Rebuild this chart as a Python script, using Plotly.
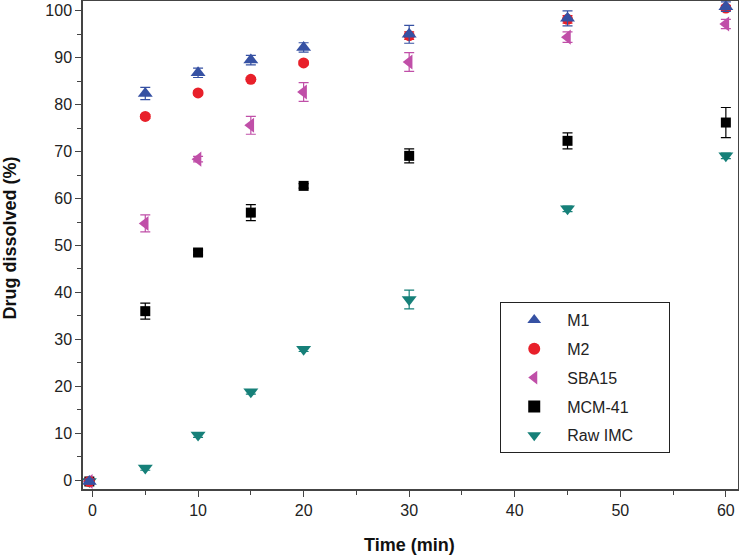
import plotly.graph_objects as go

time = [-0.3, 5, 10, 15, 20, 30, 45, 60]

m1 = [-0.3, 82.4, 86.8, 89.5, 92.2, 95.0, 98.4, 100.9]
m1_err = [0.5, 1.3, 1.0, 1.0, 1.0, 1.9, 1.6, 1.0]
m2 = [-0.3, 77.5, 82.5, 85.4, 88.9, 94.7, 98.2, 100.6]
m2_err = [0.3, 0.4, 0.4, 0.4, 0.4, 0.8, 0.8, 0.5]
sba15 = [-0.3, 54.7, 68.4, 75.6, 82.7, 89.1, 94.4, 97.2]
sba15_err = [0.5, 1.8, 0.6, 1.9, 2.0, 2.0, 1.1, 1.0]
mcm41 = [-0.3, 36.0, 48.5, 57.0, 62.7, 69.1, 72.3, 76.2]
mcm41_err = [0.3, 1.7, 0.5, 1.7, 0.5, 1.5, 1.7, 3.2]
raw = [-0.3, 2.6, 9.6, 18.8, 27.9, 38.5, 57.8, 69.1]
raw_err = [0.3, 0.5, 0.5, 0.5, 0.5, 2.0, 0.6, 0.6]

series = [
    ("M1", m1, m1_err, "triangle-up", "#3651a3", 13),
    ("M2", m2, m2_err, "circle", "#e8202a", 11),
    ("SBA15", sba15, sba15_err, "triangle-left", "#c04fa8", 13),
    ("MCM-41", mcm41, mcm41_err, "square", "#000000", 10),
    ("Raw IMC", raw, raw_err, "triangle-down", "#168079", 13),
]

pad = "\u00a0" * 7  # widen the legend box a bit

fig = go.Figure()
# draw in reverse so M1 sits on top, keep legend order with legendrank
for rank, (name, y, err, sym, col, size) in reversed(list(enumerate(series))):
    fig.add_trace(go.Scatter(
        x=time, y=y, name=name + pad, mode="markers", legendgroup=name,
        legendrank=rank + 1,
        marker=dict(symbol=sym, color=col, size=size),
        error_y=dict(type="data", array=err, color=col, thickness=1.2, width=5),
    ))

font = "Liberation Sans, Arial"
axis_common = dict(
    showline=True, linecolor="#444", linewidth=1.5, mirror=True,
    ticks="outside", ticklen=6, tickcolor="#444", tickwidth=1,
    showgrid=False, zeroline=False, automargin=False,
    tickfont=dict(family=font, size=16, color="#222"),
    minor=dict(ticks="outside", ticklen=4, tickcolor="#444", dtick=5, tick0=0),
)

fig.update_layout(
    width=739, height=556,
    margin=dict(l=83, r=1, t=1, b=67),
    plot_bgcolor="white", paper_bgcolor="white",
    xaxis=dict(axis_common, range=[-0.9, 61.15], tickvals=[0, 10, 20, 30, 40, 50, 60]),
    yaxis=dict(axis_common, range=[-1.9, 102.1], tickvals=list(range(0, 101, 10))),
    legend=dict(x=0.637, y=0.383, xanchor="left", yanchor="top",
                bordercolor="#222", borderwidth=1, bgcolor="white",
                font=dict(family=font, size=16, color="#222"),
                itemsizing="constant", tracegroupgap=5, itemwidth=56),
    annotations=[
        dict(text="<b>Time (min)</b>", xref="paper", yref="paper", x=0.4985, y=-0.1148,
             xanchor="center", yanchor="middle", showarrow=False,
             font=dict(family=font, size=18, color="#111")),
        dict(text="<b>Drug dissolved (%)</b>", xref="paper", yref="paper", x=-0.111, y=0.514,
             xanchor="center", yanchor="middle", textangle=-90, showarrow=False,
             font=dict(family=font, size=18, color="#111")),
    ],
)

fig.write_html("out.html", config={"displayModeBar": False},
               post_script="document.body.style.margin='0';")
